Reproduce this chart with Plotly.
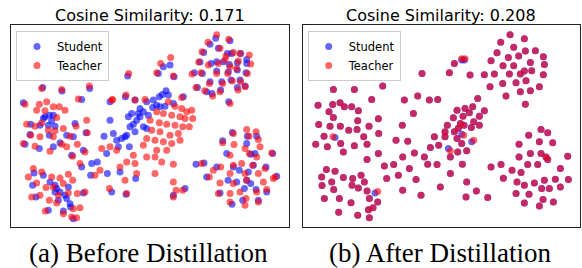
import plotly.graph_objects as go

# ---------------- data (embedding coordinates) ----------------
titles = ["Cosine Similarity: 0.171", "Cosine Similarity: 0.208"]
captions = ["(a) Before Distillation", "(b) After Distillation"]
series_names = ["Student", "Teacher"]

before_student = [
    (647,115),(630,133),(690,122),(611,157),(655,145),(682,160),(695,160),(722,160),(740,178),
    (600,186),(633,190),(650,185),(670,185),(688,193),(712,188),(740,190),(583,218),(607,220),
    (650,213),(685,215),(712,210),(738,218),(630,245),(665,245),(693,240),(720,240),(592,262),
    (620,275),(636,280),(662,270),(712,262),(735,258),(686,305),
    (510,195),(490,200),(475,220),(522,230),(383,228),
    (128,262),(186,273),(269,265),(70,308),(135,350),(148,345),(160,345),(155,362),(145,375),
    (165,378),(130,355),(120,375),(200,405),(245,298),(225,370),(258,398),(90,403),(148,405),
    (180,428),(118,445),(160,440),(220,410),(75,432),(92,372),
    (498,272),(505,285),(487,283),(478,290),(458,322),(470,315),(445,345),(430,335),(420,350),
    (410,360),(400,372),(390,380),(405,395),(380,405),(375,410),(365,415),(350,420),(340,400),
    (420,325),(440,305),(460,300),(480,320),(430,380),(440,385),(415,340),(395,340),(385,350),
    (330,305),(376,290),(330,360),(355,440),(388,440),(312,408),(320,460),(292,485),(275,490),
    (272,525),(245,500),(322,520),(360,515),(407,535),(335,575),(378,582),(550,290),(520,310),
    (495,318),(405,300),(215,465),(250,450),
    (102,518),(130,525),(98,555),(165,555),(170,565),(180,575),(195,585),(200,595),(165,575),
    (150,545),(210,610),(212,620),(220,655),(145,630),(190,632),(108,590),(175,600),(205,560),
    (250,578),
    (697,397),(742,408),(770,408),(668,422),(680,460),(740,430),(752,462),(765,460),(700,500),
    (718,510),(745,515),(760,495),(798,500),(818,460),(620,530),(650,500),(684,540),(710,545),
    (752,550),(768,568),(733,565),(660,578),(696,612),(728,600),(775,600),(800,575),(830,528),
    (588,492),(612,488),(740,540),(555,565),(520,585),
]

before_teacher = [
    (650,104),(624,127),(686,118),(606,155),(660,145),(678,168),(700,157),(720,160),(748,165),
    (596,186),(625,195),(655,190),(675,180),(690,200),(715,183),(752,192),(576,222),(603,218),
    (650,220),(683,220),(710,205),(742,220),(628,250),(668,250),(697,243),(722,245),(588,262),
    (614,272),(638,288),(660,275),(714,270),(736,260),(690,310),
    (512,172),(482,190),(470,218),(520,228),(386,220),
    (125,265),(185,268),(268,258),(75,312),(118,312),(140,305),(160,320),(178,320),(110,330),
    (135,332),(195,330),(235,297),(80,372),(105,378),(125,368),(170,352),(190,385),(165,392),
    (228,378),(260,360),(92,405),(120,410),(145,390),(160,410),(210,408),(262,398),(70,430),
    (105,438),(150,453),(185,432),(232,432),(200,440),(218,468),
    (505,305),(525,318),(545,325),(560,335),(575,330),(470,335),(490,340),(515,345),(540,350),
    (555,355),(578,355),(450,360),(478,368),(500,372),(525,375),(548,380),(568,380),(455,390),
    (480,395),(510,405),(535,400),(440,415),(465,420),(490,425),(515,430),(540,420),(430,435),
    (470,450),(500,450),(465,470),(520,492),(485,485),(440,470),(400,465),(380,485),(360,500),
    (405,490),(350,450),(330,440),(305,445),(240,490),(300,510),(285,525),(338,298),(378,285),
    (405,300),(435,298),(545,292),(520,545),(528,570),(548,570),(520,590),(465,520),(410,520),
    (375,540),(328,565),(380,580),(335,300),(255,455),
    (100,505),(85,530),(125,515),(155,530),(180,533),(205,522),(110,548),(138,562),(160,560),
    (190,550),(218,540),(95,590),(120,585),(148,600),(175,585),(205,578),(232,580),(255,575),
    (136,632),(190,640),(220,625),(240,622),(215,650),(230,652),(170,608),
    (700,400),(740,388),(768,395),(668,428),(702,433),(747,408),(775,418),(735,445),(780,440),
    (690,465),(748,460),(770,470),(815,458),(662,500),(700,495),(725,490),(758,495),(795,505),
    (640,510),(690,520),(735,520),(775,520),(820,535),(605,490),(628,530),(660,548),(700,550),
    (740,540),(790,545),(655,580),(690,605),(735,615),(775,605),(770,575),(720,575),(800,568),
    (690,580),(738,595),(825,530),
]

after_student = [
    (657,104),(629,127),(700,116),(668,142),(618,158),(703,153),(733,152),(757,170),(600,182),
    (652,172),(683,168),(718,187),(760,193),(636,197),(668,197),(700,213),(722,212),(580,224),
    (610,222),(655,222),(688,222),(757,224),(635,250),(675,248),(705,242),(597,260),(645,288),
    (688,275),(718,272),(745,260),(703,312),
    (520,180),(512,180),(490,190),(475,218),(537,225),(393,220),(275,258),
    (127,268),(190,268),(81,315),(125,313),(147,308),(160,320),(182,320),(114,335),(127,352),
    (202,332),(242,298),(262,356),(83,373),(117,378),(148,378),(200,362),(173,390),(198,388),
    (234,378),(99,408),(132,412),(218,410),(263,400),(74,432),(109,440),(149,430),(190,437),
    (228,432),(157,455),
    (106,508),(92,530),(132,513),(93,556),(122,545),(157,532),(185,535),(210,525),(202,563),
    (220,545),(128,568),(100,595),(145,595),(183,555),(228,572),(252,578),(260,605),(235,595),
    (180,607),(143,636),(200,645),(232,628),(246,622),(235,652),
    (340,300),(380,288),(415,300),(440,298),(367,340),(334,375),(315,420),(350,423),(262,460),
    (228,478),(280,497),(308,493),(287,535),(322,525),(335,470),(370,458),(355,505),(375,538),
    (335,570),(390,585),(400,470),(410,492),(438,493),(418,442),(430,410),(443,435),(462,410),
    (472,445),(469,375),(487,353),(462,395),(490,395),(502,384),(512,402),(512,430),(527,452),
    (500,455),(478,470),(448,560),(478,520),(514,492),(527,545),(525,590),(556,572),(590,592),
    (522,325),(545,320),(560,295),(516,348),(535,338),(548,365),(565,375),(580,332),(565,348),
    (541,382),(542,425),(498,415),(519,375),(498,330),(508,370),
    (750,388),(770,398),(713,405),(684,432),(745,425),(785,428),(718,460),(750,460),(684,470),
    (765,470),(830,468),(600,500),(630,493),(663,510),(690,517),(710,493),(740,493),(770,478),
    (808,505),(637,534),(678,545),(700,555),(730,548),(760,540),(793,537),(832,538),(752,565),
    (775,565),(808,560),(675,580),(714,582),(756,598),(700,608),(745,617),(787,605),
]

after_teacher = [
    (657,104),(629,127),(700,116),(668,142),(618,158),(703,153),(733,152),(757,170),(600,182),
    (652,172),(683,168),(718,187),(760,193),(636,197),(668,197),(700,213),(722,212),(580,224),
    (610,222),(655,222),(688,222),(757,224),(635,250),(675,248),(705,242),(597,260),(645,288),
    (688,275),(718,272),(745,260),(703,312),
    (522,176),(512,176),(490,190),(475,218),(537,225),(393,220),(275,258),
    (127,268),(190,268),(81,315),(125,313),(147,308),(160,320),(182,320),(114,335),(127,352),
    (202,332),(242,298),(262,356),(83,373),(117,378),(148,378),(200,362),(173,390),(198,388),
    (234,378),(99,408),(126,410),(218,410),(263,400),(74,432),(109,440),(149,430),(190,437),
    (228,432),(157,455),
    (106,508),(92,530),(132,513),(93,556),(122,545),(157,532),(185,535),(210,525),(202,563),
    (220,545),(128,568),(100,595),(145,595),(183,555),(228,572),(260,574),(260,605),(235,595),
    (180,607),(143,636),(200,645),(232,628),(246,622),(235,652),
    (340,300),(380,288),(415,300),(440,298),(367,340),(334,375),(315,420),(350,423),(262,460),
    (228,478),(280,497),(308,493),(287,535),(322,525),(335,470),(370,458),(355,505),(375,538),
    (335,570),(390,585),(400,470),(410,492),(438,493),(418,442),(430,410),(443,435),(462,410),
    (478,452),(469,375),(487,353),(462,395),(490,395),(502,384),(518,405),(512,430),(527,452),
    (500,455),(478,470),(448,560),(478,520),(514,492),(527,545),(525,590),(556,572),(590,592),
    (522,325),(545,320),(560,295),(516,348),(535,338),(548,365),(565,375),(580,332),(565,348),
    (541,382),(548,420),(498,415),(519,375),(498,330),(508,370),
    (750,388),(770,398),(713,405),(684,432),(745,425),(785,428),(718,460),(750,460),(684,470),
    (765,470),(830,468),(600,500),(630,493),(663,510),(690,517),(710,493),(740,493),(770,478),
    (808,505),(637,534),(678,545),(700,555),(730,548),(760,540),(793,537),(832,538),(752,565),
    (775,565),(808,560),(675,580),(714,582),(756,598),(700,608),(745,617),(787,605),
]

# ---------------- figure ----------------
W, H = 582, 268
student_color = "rgba(0,0,255,0.6)"
teacher_color = "rgba(255,0,0,0.6)"

panels = [
    dict(student=before_student, teacher=before_teacher, xr=[33, 866], xd=[11, 288.7],
         xa="x", ya="y", legend="legend"),
    dict(student=after_student, teacher=after_teacher, xr=[35, 866], xd=[302.7, 579.7],
         xa="x2", ya="y2", legend="legend2"),
]
frame_top, frame_bot = 25, 227

fig = go.Figure()
annotations = []
layout = dict(width=W, height=H, margin=dict(l=0, r=0, t=0, b=0, autoexpand=False),
              paper_bgcolor="white", plot_bgcolor="white", showlegend=True)

for i, p in enumerate(panels):
    for name, pts, col in [(series_names[0], p["student"], student_color),
                           (series_names[1], p["teacher"], teacher_color)]:
        fig.add_trace(go.Scatter(
            x=[q[0] for q in pts], y=[q[1] for q in pts], mode="markers", name=name,
            marker=dict(size=7, color=col, line=dict(width=0)),
            xaxis=p["xa"], yaxis=p["ya"], legend=p["legend"]))
    sfx = "" if i == 0 else str(i + 1)
    axis_common = dict(showgrid=False, zeroline=False, showticklabels=False, ticks="",
                       showline=True, mirror=True, linecolor="#222", linewidth=1)
    layout["xaxis" + sfx] = dict(range=p["xr"], domain=[p["xd"][0] / W, p["xd"][1] / W],
                                 anchor="y" + sfx, **axis_common)
    layout["yaxis" + sfx] = dict(range=[680, 75], domain=[(H - frame_bot) / H, (H - frame_top) / H],
                                 anchor="x" + sfx, **axis_common)
    cx = (p["xd"][0] + p["xd"][1]) / 2
    annotations.append(dict(text=titles[i], x=cx / W, y=(H - 16) / H, xref="paper", yref="paper",
                            xanchor="center", yanchor="middle", showarrow=False,
                            font=dict(family="DejaVu Sans", size=16, color="black")))
    annotations.append(dict(text=captions[i], x=(cx - 1) / W, y=(H - 253) / H, xref="paper",
                            yref="paper", xanchor="center", yanchor="middle", showarrow=False,
                            font=dict(family="Liberation Serif", size=27, color="black")))
    layout[p["legend"]] = dict(x=(p["xd"][0] + 5) / W, y=(H - 31) / H, xanchor="left", yanchor="top",
                               bgcolor="white", bordercolor="#cccccc", borderwidth=1,
                               font=dict(family="DejaVu Sans", size=11.5, color="black"),
                               itemsizing="trace", tracegroupgap=0)

layout["annotations"] = annotations
fig.update_layout(**layout)
fig.write_html("out.html", config={"displayModeBar": False},
               post_script="document.body.style.margin='0';")
